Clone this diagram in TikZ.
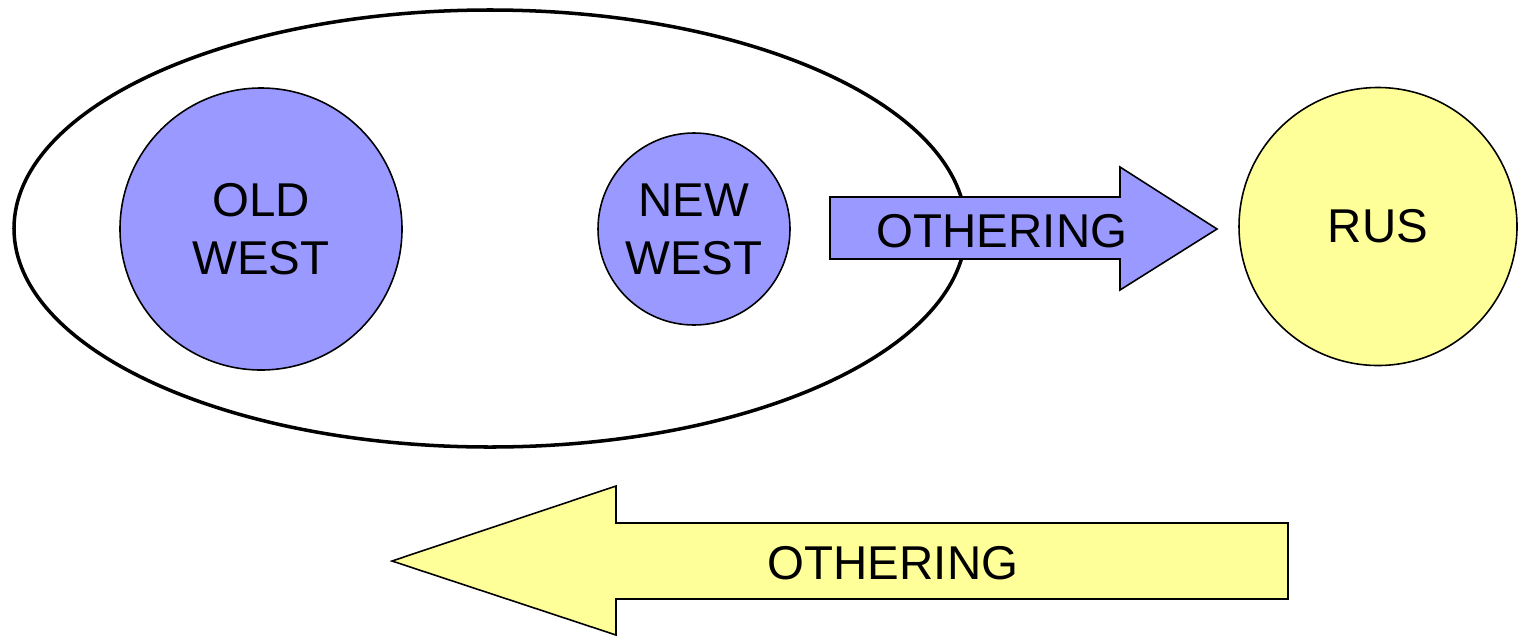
\documentclass[tikz,border=0pt]{standalone}
\usepackage{fontspec}
\setmainfont{Liberation Sans}
\usepackage{tikz}
\usetikzlibrary{shapes.geometric}
\usetikzlibrary{positioning}
\definecolor{westblue}{HTML}{9999FF}
\definecolor{rusyellow}{HTML}{FFFF99}

\begin{document}
\begin{tikzpicture}[bloc/.style={circle, draw, line width=0.45pt, align=center, inner sep=0pt, font=\fontsize{13.5}{16.5}\selectfont}, west/.style={bloc, fill=westblue}, rus/.style={bloc, fill=rusyellow}, arrowbody/.style={draw, line width=0.45pt, line join=miter}, label/.style={inner sep=0pt, font=\fontsize{13.5}{16.5}\selectfont}]
\useasboundingbox (0,0) rectangle (15.22,6.37);
\node [draw, ellipse, line width=1pt, minimum width=9.52cm, minimum height=4.37cm, inner sep=0pt] (westall) at (4.90,4.085) {};
\node [west, minimum size=2.82cm] (oldwest) at (2.61,4.08) {OLD\\WEST};
\node [west, minimum size=1.92cm] (newwest) at (6.94,4.08) {NEW\\WEST};
\node [rus, minimum size=2.78cm] (russia) at (13.78,4.105) {RUS};
\draw [arrowbody, fill=westblue] (8.30,4.40) -- (11.20,4.40) -- (11.20,4.70) -- (12.17,4.08) -- (11.20,3.47) -- (11.20,3.78) -- (8.30,3.78) -- cycle;
\draw [arrowbody, fill=rusyellow] (12.88,1.14) -- (6.16,1.14) -- (6.16,1.51) -- (3.92,0.76) -- (6.16,0.02) -- (6.16,0.38) -- (12.88,0.38) -- cycle;
\node [label] (othering1) at (10.02,4.06) {OTHERING};
\node [label] (othering2) at (8.93,0.74) {OTHERING};
\end{tikzpicture}
\end{document}
